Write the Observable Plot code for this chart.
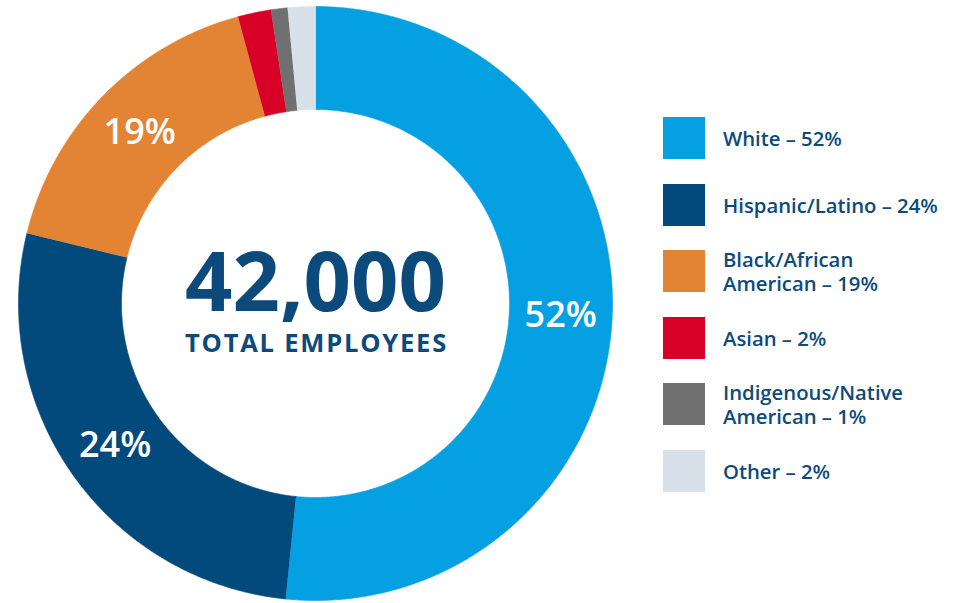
<!DOCTYPE html>
<html><head><meta charset="utf-8">
<script src="https://cdn.jsdelivr.net/npm/d3@7"></script>
<script src="https://cdn.jsdelivr.net/npm/@observablehq/plot@0.6"></script>
<style>
body{margin:0;background:#fff;font-family:"Open Sans",sans-serif;}
#wrap{position:relative;width:961px;height:603px;overflow:hidden;}
#chart{position:absolute;left:0;top:0;}
#legend{position:absolute;left:663px;top:117px;}
.item{display:flex;align-items:center;height:42px;margin-bottom:24.6px;}
.sw{width:42px;height:42px;flex:none;}
.lab{margin-left:18px;font-size:20.3px;font-weight:600;line-height:24px;color:#0b4a7b;white-space:nowrap;}
</style></head><body>
<div id="wrap"><div id="chart"></div><div id="legend"></div></div>
<script>
// ---- data ----
const categories = ["White", "Hispanic/Latino", "Black/African American", "Asian", "Indigenous/Native American", "Other"];
const shares = [51.6, 27.2, 17.0, 1.8, 0.9, 1.5];           // arc sizes as drawn (%)
const sliceLabels = ["52%", "24%", "19%", "", "", ""];
const legendLabels = [["White – 52%"], ["Hispanic/Latino – 24%"], ["Black/African", "American – 19%"], ["Asian – 2%"], ["Indigenous/Native", "American – 1%"], ["Other – 2%"]];
const colors = ["#05a0e2", "#034a7c", "#e38434", "#d90027", "#707070", "#d8e0ea"];
const totalValue = "42,000";
const totalLabel = "TOTAL EMPLOYEES";

// ---- geometry ----
const outerR = 297, innerR = 194;
const sum = d3.sum(shares);
let acc = 0;
const slices = categories.map((c, i) => {
  const a0 = acc / sum * 2 * Math.PI;
  acc += shares[i];
  const a1 = acc / sum * 2 * Math.PI;
  return {category: c, a0, a1, label: sliceLabels[i]};
});
const pts = [];
for (const s of slices) {
  const n = Math.max(4, Math.ceil((s.a1 - s.a0) / (Math.PI / 360)));
  for (let k = 0; k <= n; k++) {
    const a = s.a0 + (s.a1 - s.a0) * k / n;
    pts.push({category: s.category, x: outerR * Math.sin(a), y: outerR * Math.cos(a)});
  }
  for (let k = n; k >= 0; k--) {
    const a = s.a0 + (s.a1 - s.a0) * k / n;
    pts.push({category: s.category, x: innerR * Math.sin(a), y: innerR * Math.cos(a)});
  }
}
const labelR = (outerR + innerR) / 2;
const labels = slices.filter(s => s.label).map(s => {
  const a = (s.a0 + s.a1) / 2;
  return {label: s.label, x: labelR * Math.sin(a), y: labelR * Math.cos(a)};
});

const chart = Plot.plot({
  width: 640,
  height: 603,
  margin: 0,
  x: {domain: [-315, 325], axis: null},
  y: {domain: [-300, 303], axis: null},
  color: {domain: categories, range: colors},
  style: {fontFamily: "'Open Sans', sans-serif", background: "white"},
  marks: [
    Plot.line(pts, {x: "x", y: "y", z: "category", fill: "category", stroke: "category", strokeWidth: 0.6, curve: "linear"}),
    Plot.text(labels, {x: "x", y: "y", text: "label", fill: "white", fontSize: 36, fontWeight: 600}),
    Plot.text([totalValue], {x: () => 0, y: () => 0, text: d => d, fill: "#0b4a7b", fontSize: 83, fontWeight: 700, dy: -19}),
    Plot.text([totalLabel], {x: () => 0, y: () => 0, text: d => d, fill: "#0b4a7b", fontSize: 25.5, fontWeight: 700, dy: 40})
  ]
});
chart.querySelectorAll("text").forEach(t => {
  if (t.textContent === totalLabel) {
    t.style.letterSpacing = "1.8px";
    t.setAttribute("dx", "1");
  }
});
document.getElementById("chart").appendChild(chart);

const legend = document.getElementById("legend");
categories.forEach((c, i) => {
  const item = document.createElement("div");
  item.className = "item";
  const sw = document.createElement("div");
  sw.className = "sw";
  sw.style.background = colors[i];
  const lab = document.createElement("div");
  lab.className = "lab";
  lab.innerHTML = legendLabels[i].join("<br>");
  item.appendChild(sw);
  item.appendChild(lab);
  legend.appendChild(item);
});
</script>
</body></html>
